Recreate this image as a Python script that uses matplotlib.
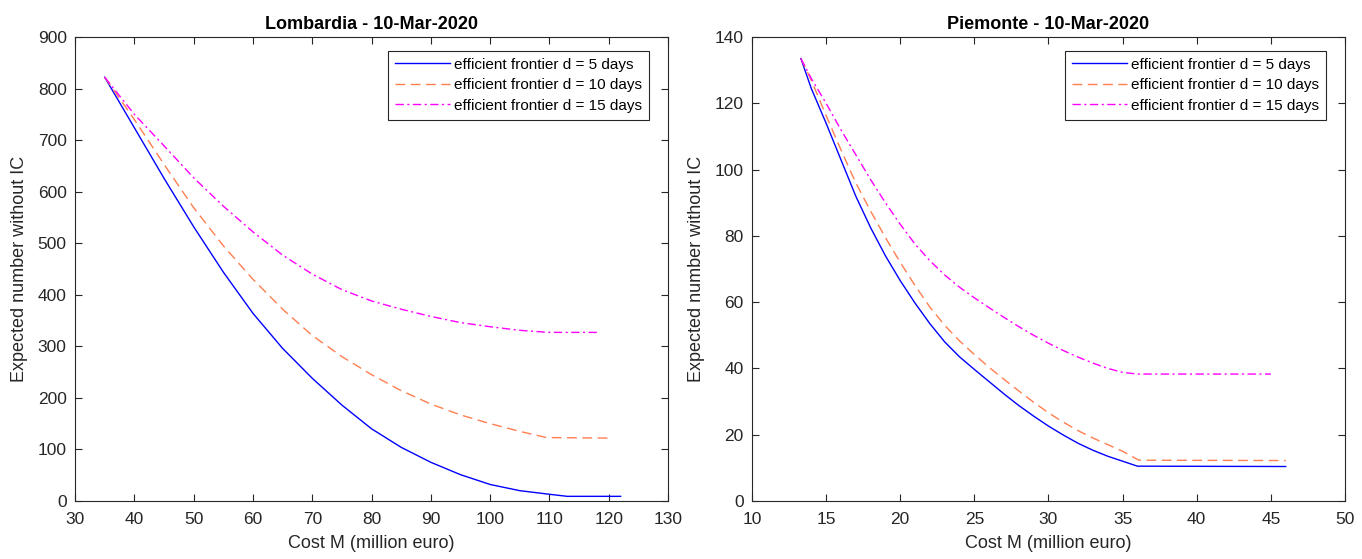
import matplotlib
matplotlib.use("Agg")
import matplotlib.pyplot as plt

plt.rcParams['font.family'] = ['Liberation Sans', 'DejaVu Sans']

# --- Lombardia ---
lom_x5 = [35, 40, 45, 50, 55, 60, 65, 70, 75, 80, 85, 90, 95, 100, 105, 110, 113, 122]
lom_y5 = [822, 724, 626, 532, 444, 364, 296, 238, 186, 140, 104, 75, 51, 32, 20, 13, 9, 9]
lom_x10 = [35, 40, 45, 50, 55, 60, 65, 70, 75, 80, 85, 90, 95, 100, 105, 109.5, 120]
lom_y10 = [822, 740, 653, 569, 495, 430, 372, 321, 280, 245, 214, 188, 167, 150, 135, 123, 122]
lom_x15 = [35, 40, 45, 50, 55, 60, 65, 70, 75, 80, 85, 90, 95, 100, 105, 110, 118]
lom_y15 = [822, 750, 689, 627, 572, 522, 477, 440, 410, 388, 372, 358, 346, 338, 331, 327, 327]

# --- Piemonte ---
pie_x5 = [13.3, 14, 15, 16, 17, 18, 19, 20, 21, 22, 23, 24, 25, 26, 27, 28, 29, 30,
          31, 32, 33, 34, 35, 36, 46]
pie_y5 = [133.5, 124.5, 114, 103, 92, 82.5, 74, 66.5, 59.7, 53.5, 48, 43.5, 39.7, 36, 32.3,
          28.8, 25.6, 22.6, 19.9, 17.4, 15.3, 13.5, 12, 10.5, 10.4]
pie_x10 = [13.3, 14, 15, 16, 17, 18, 19, 20, 21, 22, 23, 24, 25, 26, 27, 28, 29, 30,
           31, 32, 33, 34, 35, 36.1, 46]
pie_y10 = [133.5, 127, 116.3, 106, 96, 87.5, 79.5, 72, 65, 58.5, 53, 48.3, 44.2, 40.3, 36.7,
           33.2, 29.8, 26.6, 23.8, 21.2, 19, 17, 15, 12.3, 12.2]
pie_x15 = [13.3, 14, 15, 16, 17, 18, 19, 20, 21, 22, 23, 24, 25, 26, 27, 28, 29, 30,
           31, 32, 33, 34, 35, 36, 45]
pie_y15 = [133.5, 127.5, 120, 112, 104.5, 97, 90, 83.5, 77.5, 72.5, 68.2, 64.5, 61.3, 58.3,
           55.4, 52.6, 50, 47.6, 45.4, 43.4, 41.6, 40, 38.8, 38.3, 38.3]

labels = ['efficient frontier d = 5 days', 'efficient frontier d = 10 days',
          'efficient frontier d = 15 days']
colors = ['#0000ff', '#ff7f50', '#ff00ff']
styles = ['-', (0, (7, 4)), (0, (6, 2.5, 1.5, 2.5))]

fig = plt.figure(figsize=(13.62, 5.59), dpi=100)
ax1 = fig.add_axes([0.0551, 0.1038, 0.4354, 0.830])
ax2 = fig.add_axes([0.5521, 0.1038, 0.4354, 0.830])

panels = [
    (ax1, [(lom_x5, lom_y5), (lom_x10, lom_y10), (lom_x15, lom_y15)],
     'Lombardia - 10-Mar-2020', (30, 130), range(30, 131, 10), (0, 900), range(0, 901, 100)),
    (ax2, [(pie_x5, pie_y5), (pie_x10, pie_y10), (pie_x15, pie_y15)],
     'Piemonte - 10-Mar-2020', (10, 50), range(10, 51, 5), (0, 140), range(0, 141, 20)),
]

for ax, series, title, xl, xt, yl, yt in panels:
    for (x, y), lab, c, ls in zip(series, labels, colors, styles):
        ax.plot(x, y, color=c, linestyle=ls, linewidth=1.0, label=lab)
    ax.set_xlim(*xl)
    ax.set_ylim(*yl)
    ax.set_xticks(list(xt))
    ax.set_yticks(list(yt))
    ax.tick_params(direction='in', top=True, right=True, length=5, width=0.8,
                   labelsize=12.5, colors='#262626')
    ax.tick_params(axis='x', pad=8)
    ax.tick_params(axis='y', pad=6)
    for sp in ax.spines.values():
        sp.set_color('#262626')
        sp.set_linewidth(0.8)
    ax.set_title(title, fontsize=13, fontweight='bold', pad=6)
    ax.set_xlabel('Cost M (million euro)', fontsize=13, color='#262626', labelpad=6)
    ax.set_ylabel('Expected number without IC', fontsize=13, color='#262626', labelpad=7)
    leg = ax.legend(loc='upper right', bbox_to_anchor=(0.968, 0.97), fontsize=11,
                    frameon=True, fancybox=False, edgecolor='#262626', framealpha=1,
                    handlelength=3.6, handletextpad=0.3, borderpad=0.45, labelspacing=0.42,
                    borderaxespad=0)
    leg.get_frame().set_linewidth(0.8)

fig.savefig('out.png', dpi=100)
